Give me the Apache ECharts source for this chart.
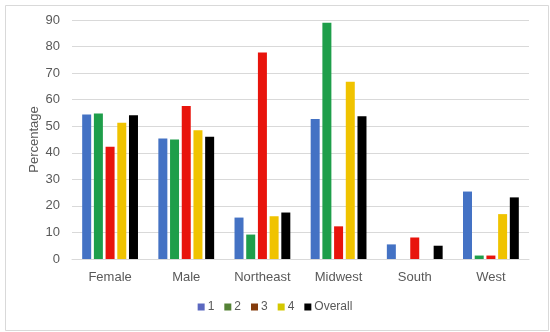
<!DOCTYPE html>
<html>
<head>
<meta charset="utf-8">
<script src="https://cdn.jsdelivr.net/npm/echarts@6/dist/echarts.min.js"></script>
<style>
html,body{margin:0;padding:0;background:#fff;}
#c{width:550px;height:332px;}
</style>
</head>
<body>
<div id="c"></div>
<script>
const categories = ['Female', 'Male', 'Northeast', 'Midwest', 'South', 'West'];
const seriesNames = ['1', '2', '3', '4', 'Overall'];
const s1 = [54.4, 45.4, 15.6, 52.7, 5.5, 25.4];
const s2 = [54.8, 45.0, 9.2, 89.0, 0, 1.3];
const s3 = [42.3, 57.6, 77.8, 12.3, 8.1, 1.3];
const s4 = [51.3, 48.5, 16.1, 66.7, 0, 16.9];
const sOverall = [54.1, 46.0, 17.5, 53.8, 5.0, 23.2];
const yTicks = [0, 10, 20, 30, 40, 50, 60, 70, 80, 90];

const barColors = ['#4472C4', '#1E9E4A', '#E8140C', '#F0C300', '#000000'];
const legendColors = ['#5B68C0', '#548235', '#843C0C', '#D4C800', '#000000'];
const allData = [s1, s2, s3, s4, sOverall];

const chart = echarts.init(document.getElementById('c'), null, {renderer: 'canvas'});
const font = '"Liberation Sans", Arial, sans-serif';
chart.setOption({
  animation: false,
  backgroundColor: '#fff',
  textStyle: {fontFamily: font},
  graphic: [{
    type: 'rect', left: 3, top: 3,
    shape: {width: 543, height: 325},
    style: {fill: 'none', stroke: '#d9d9d9', lineWidth: 1}, silent: true
  }],
  grid: {left: 72, right: 21, top: 20, bottom: 73},
  legend: {
    bottom: 14, left: 'center',
    itemWidth: 7, itemHeight: 7, itemGap: 10, icon: 'rect',
    textStyle: {fontSize: 12, color: '#595959', fontFamily: font, padding: [0, 0, 0, -2]},
    data: seriesNames.map((n, i) => ({name: n, itemStyle: {color: legendColors[i]}}))
  },
  xAxis: {
    type: 'category', data: categories,
    axisLine: {lineStyle: {color: '#d9d9d9'}},
    axisTick: {show: false},
    axisLabel: {color: '#595959', fontSize: 13, margin: 12, fontFamily: font}
  },
  yAxis: {
    type: 'value', min: yTicks[0], max: yTicks[yTicks.length - 1], interval: 10,
    name: 'Percentage', nameLocation: 'middle', nameGap: 31, nameMoveOverlap: false,
    nameTextStyle: {color: '#595959', fontSize: 13, fontFamily: font},
    axisLine: {show: false}, axisTick: {show: false},
    axisLabel: {color: '#595959', fontSize: 13, margin: 12, fontFamily: font},
    splitLine: {lineStyle: {color: '#d9d9d9'}}
  },
  series: seriesNames.map((n, i) => ({
    name: n, type: 'bar', data: allData[i],
    barWidth: 9, barGap: '30%',
    itemStyle: {color: barColors[i]}
  }))
});
</script>
</body>
</html>
